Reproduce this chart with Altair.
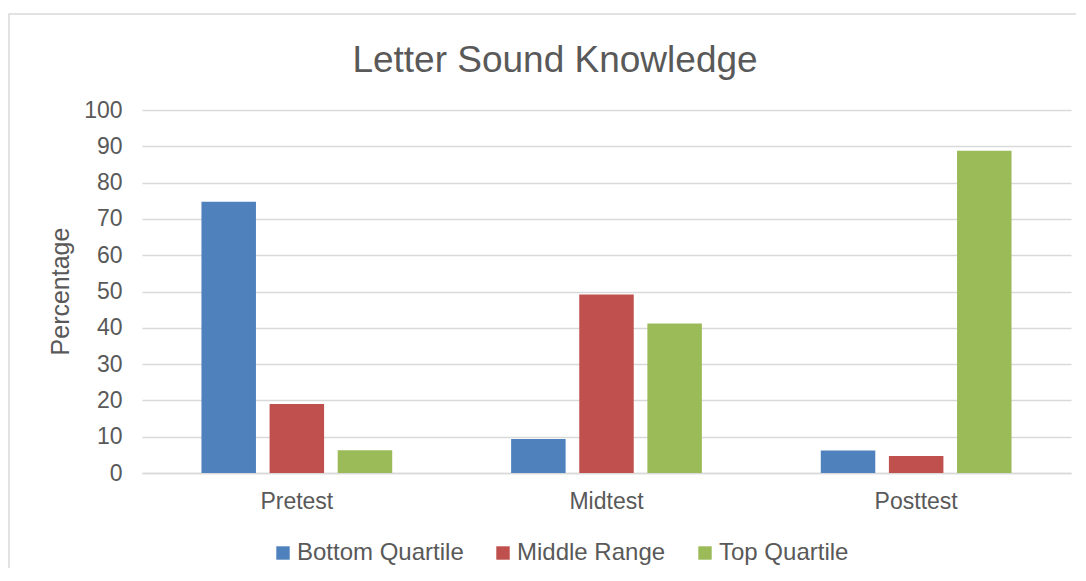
import altair as alt
import pandas as pd

categories = ["Pretest", "Midtest", "Posttest"]
series = ["Bottom Quartile", "Middle Range", "Top Quartile"]
bottom_quartile = [74.7, 9.4, 6.2]
middle_range = [19.0, 49.2, 4.7]
top_quartile = [6.3, 41.2, 88.8]
colors = ["#4F81BD", "#C0504D", "#9BBB59"]
y_ticks = [0, 10, 20, 30, 40, 50, 60, 70, 80, 90, 100]
chart_title = "Letter Sound Knowledge"

rows = []
for s, vals in zip(series, [bottom_quartile, middle_range, top_quartile]):
    for c, v in zip(categories, vals):
        rows.append({"test": c, "group": s, "value": v})
df = pd.DataFrame(rows)

TXT = "#595959"
GRID = "#d9d9d9"

bars = alt.Chart(df).mark_bar().encode(
    x=alt.X("test:N", sort=categories,
            scale=alt.Scale(paddingInner=0.384, paddingOuter=0.192),
            axis=alt.Axis(title=None, labelAngle=0, labelFontSize=23, labelColor=TXT,
                          labelPadding=17, ticks=False, domainColor=GRID, domainWidth=1.5,
                          grid=False)),
    xOffset=alt.XOffset("group:N", sort=series,
                        scale=alt.Scale(paddingInner=0.2, paddingOuter=0)),
    y=alt.Y("value:Q", scale=alt.Scale(domain=[0, 100], nice=False),
            axis=alt.Axis(values=y_ticks, title="Percentage", titleFontSize=25,
                          titleFontWeight="normal", titleColor=TXT, titleAngle=-90,
                          titleBaseline="alphabetic", titleX=-74, titleY=181,
                          labelFontSize=23, labelColor=TXT, labelPadding=20,
                          ticks=False, domain=False, gridColor=GRID, gridWidth=1.5)),
    color=alt.Color("group:N", sort=series,
                    scale=alt.Scale(domain=series, range=colors),
                    legend=alt.Legend(title=None, orient="none", direction="horizontal",
                                      legendX=129, legendY=431, symbolType="square",
                                      symbolSize=180, symbolStrokeWidth=0,
                                      labelFontSize=24, labelColor=TXT, labelOffset=2,
                                      labelLimit=400, columnPadding=27)),
)

one = pd.DataFrame({"t": [chart_title]})

border = alt.Chart(one).mark_rect(fill=None, stroke=GRID, strokeWidth=1.5).encode(
    x=alt.value(9 - 142), x2=alt.value(1300), y=alt.value(14 - 110), y2=alt.value(700)
)

title = alt.Chart(one).mark_text(fontSize=37, color=TXT, baseline="alphabetic",
                                 align="center").encode(
    text="t:N", x=alt.value(413), y=alt.value(-38)
)

chart = alt.layer(border, bars, title).properties(
    width=929, height=363,
    autosize=alt.AutoSizeParams(type="none"),
    padding={"left": 134, "top": 102, "right": 5, "bottom": 95},
).configure(font="Liberation Sans").configure_view(stroke=None)

chart.save("out.html", embed_options={"renderer": "svg", "actions": False})
